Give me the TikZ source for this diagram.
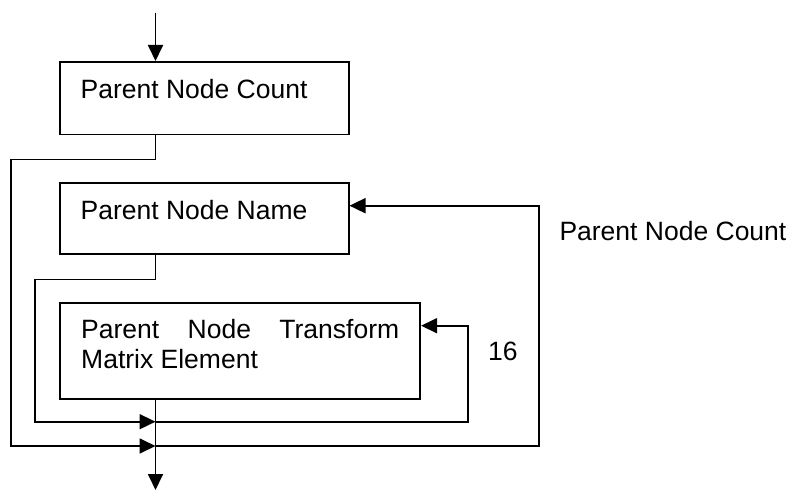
\documentclass[tikz,border=0pt]{standalone}
\usepackage{fontspec}
\setmainfont{Liberation Sans}
\usetikzlibrary{arrows.meta,calc}
\begin{document}
\begin{tikzpicture}[x=1bp,y=-1bp,
  every node/.style={font=\fontsize{26.5bp}{30.4bp}\selectfont},
  box/.style={draw, line width=1.8bp, inner xsep=21bp, inner ysep=0pt, anchor=north west},
  conn/.style={line width=1.8bp},
  arr/.style={conn, -{Triangle[length=16bp,width=15bp]}},
  lbl/.style={anchor=base west, inner sep=0pt}]
\useasboundingbox (0,0) rectangle (789,490);
\node[box] (b1) at (58.7,61) {\parbox[c][72.7bp][t]{247bp}{\rule{0pt}{37bp}Parent Node Count}};
\node[box] (b2) at (58.7,182) {\parbox[c][71.3bp][t]{247bp}{\rule{0pt}{36.3bp}Parent Node Name}};
\node[box] (b3) at (59.3,302) {\parbox[c][95.7bp][t]{318bp}{\rule{0pt}{35.3bp}\makebox[318bp][s]{Parent Node Transform}\\Matrix Element}};
\coordinate (top) at (155.5,12.7);
\coordinate (j1) at (155.5,421.7);
\coordinate (j2) at (155.5,446);
\coordinate (bot) at (155.5,490);
\draw[arr] (top) -- (top |- b1.north);
\draw[arr] (b1.south -| top) -- ++(0,24) -| (11.3,446) -- (j2);
\draw[arr] (j2) -- (539.3,446) |- ($(b2.north east)+(0,23.7)$);
\draw[arr] (b2.south -| top) -- ++(0,24.4) -| (35.3,421.7) -- (j1);
\draw[arr] (j1) -- (467.7,421.7) |- ($(b3.north east)+(0,23.7)$);
\draw[arr] (b3.south -| top) -- (bot);
\node[lbl] (l1) at (559.3,241) {Parent Node Count};
\node[lbl] (l2) at (488,360) {16};
\end{tikzpicture}
\end{document}
